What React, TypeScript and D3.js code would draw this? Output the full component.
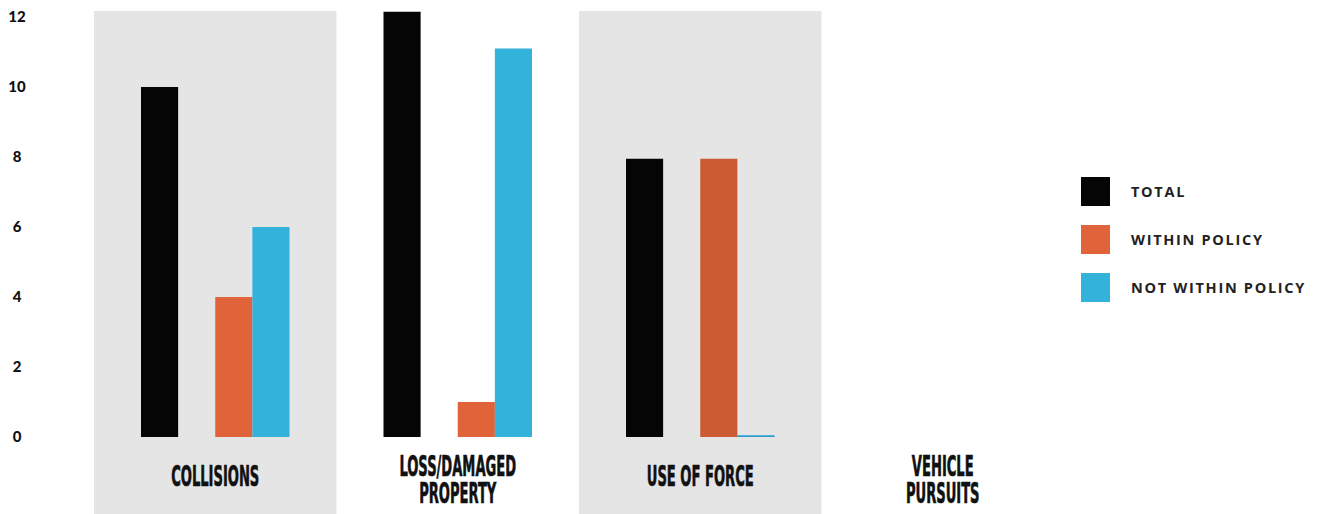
import React from "react";
import * as d3 from "d3";

const categories = [["COLLISIONS"], ["LOSS/DAMAGED", "PROPERTY"], ["USE OF FORCE"], ["VEHICLE", "PURSUITS"]];
const seriesNames = ["TOTAL", "WITHIN POLICY", "NOT WITHIN POLICY"];
const totalValues = [10, 12.15, 7.95, 0];
const withinValues = [4, 1, 7.95, 0];
const notWithinValues = [6, 11.1, 0.05, 0];
const yTicks = [0, 2, 4, 6, 8, 10, 12];
const seriesColors = ["#050505", "#e0633a", "#33b2dc"];
const highlightColors = ["#050505", "#cc5a33", "#2a9fcf"];
const highlightedCategory = 2;
const slots = ["total", "gap", "within", "notWithin"];

const W = 1325;
const H = 514;

export default function App() {
  const x0 = d3.scaleBand<number>().domain(d3.range(categories.length)).range([94, 1064]).padding(0);
  const x1 = d3.scaleBand<string>().domain(slots).range([47, x0.bandwidth() - 47]).padding(0);
  const y = d3.scaleLinear().domain([0, 12]).range([437, 17]);
  const series = [totalValues, withinValues, notWithinValues];
  const slotOf = ["total", "within", "notWithin"];

  return (
    <svg width={W} height={H} style={{ position: "absolute", left: 0, top: 0 }}>
      <rect x={0} y={0} width={W} height={H} fill="#ffffff" />
      {categories.map((c, i) =>
        i % 2 === 0 ? (
          <rect key={"bg" + i} x={x0(i)} y={11} width={x0.bandwidth()} height={H - 11} fill="#e5e5e5" />
        ) : null
      )}
      {yTicks.map((t) => (
        <text
          key={"t" + t}
          x={17}
          y={y(t) + 1.5}
          textAnchor="middle"
          dominantBaseline="middle"
          fontFamily="Lato, 'Open Sans', sans-serif"
          fontWeight={900}
          fontSize={15}
          fill="#111"
        >
          {t}
        </text>
      ))}
      {categories.map((c, i) =>
        series.map((vals, s) => {
          const v = vals[i];
          if (v <= 0) return null;
          const color = i === highlightedCategory ? highlightColors[s] : seriesColors[s];
          return (
            <rect
              key={"b" + i + "-" + s}
              x={(x0(i) as number) + (x1(slotOf[s]) as number)}
              y={y(v)}
              width={x1.bandwidth()}
              height={y(0) - y(v)}
              fill={color}
            />
          );
        })
      )}
      {categories.map((lines, i) => {
        const cx = (x0(i) as number) + x0.bandwidth() / 2;
        const baseY = lines.length === 1 ? 486 : 476;
        return (
          <text
            key={"l" + i}
            transform={`translate(${cx},${baseY}) scale(0.56,1.12)`}
            textAnchor="middle"
            fontFamily="'DejaVu Sans Condensed', 'DejaVu Sans', sans-serif"
            fontWeight="bold"
            fontSize={26}
            fill="#111"
            stroke="#111"
            strokeWidth={0.6}
          >
            {lines.map((ln, k) => (
              <tspan key={k} x={0} dy={k === 0 ? 0 : 27 / 1.12}>
                {ln}
              </tspan>
            ))}
          </text>
        );
      })}
      {seriesNames.map((n, s) => (
        <g key={"lg" + s} transform={`translate(1081,${177 + s * 48})`}>
          <rect x={0} y={0} width={29} height={29} fill={seriesColors[s]} />
          <text
            x={50}
            y={19.5}
            fontFamily="'Open Sans', Lato, sans-serif"
            fontWeight={700}
            fontSize={14.5}
            letterSpacing={1.7}
            fill="#222"
          >
            {n}
          </text>
        </g>
      ))}
    </svg>
  );
}
